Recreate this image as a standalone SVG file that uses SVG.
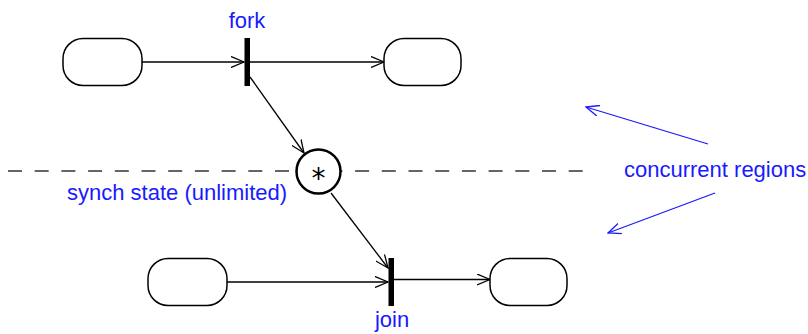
<svg xmlns="http://www.w3.org/2000/svg" width="808" height="334" viewBox="0 0 808 334">
<style>
.state{fill:#fff;stroke:#000;stroke-width:1.5}
.bar{fill:#000}
.conn{fill:none;stroke:#000;stroke-width:1.3}
.note{fill:none;stroke:#1a1aff;stroke-width:1.3}
.lbl{font-family:"Liberation Sans",Arial,sans-serif;font-size:22px;fill:#1a1aff}
</style>
<defs>
<marker id="ah" viewBox="0 0 14 12" refX="13" refY="6" markerWidth="14" markerHeight="12" markerUnits="userSpaceOnUse" orient="auto">
<path d="M0,0.5 L13,6 L0,11.5" fill="none" stroke="#000" stroke-width="1.3"/>
</marker>
<marker id="ahb" viewBox="0 0 14 12" refX="13" refY="6" markerWidth="14" markerHeight="12" markerUnits="userSpaceOnUse" orient="auto">
<path d="M0,0.5 L13,6 L0,11.5" fill="none" stroke="#1a1aff" stroke-width="1.3"/>
</marker>
</defs>
<rect width="808" height="334" fill="#fff"/>
<line x1="8" y1="171" x2="590" y2="171" stroke="#333" stroke-width="1.6" stroke-dasharray="14 12.7"/>
<g id="connectors">
<line class="conn" x1="142" y1="62" x2="244" y2="62" marker-end="url(#ah)"/>
<line class="conn" x1="250" y1="62" x2="384" y2="62" marker-end="url(#ah)"/>
<line class="conn" x1="250" y1="77" x2="304" y2="153" marker-end="url(#ah)"/>
<line class="conn" x1="331" y1="193" x2="388" y2="268" marker-end="url(#ah)"/>
<line class="conn" x1="227" y1="282" x2="388" y2="282" marker-end="url(#ah)"/>
<line class="conn" x1="394" y1="279.5" x2="490" y2="279.5" marker-end="url(#ah)"/>
<line class="note" x1="708" y1="144" x2="586" y2="107" marker-end="url(#ahb)"/>
<line class="note" x1="715" y1="193" x2="608" y2="233" marker-end="url(#ahb)"/>
</g>
<g id="state1"><rect class="state" x="63" y="38.5" width="79" height="47" rx="20"/></g>
<g id="state2"><rect class="state" x="384" y="38.5" width="77" height="47" rx="20"/></g>
<g id="state3"><rect class="state" x="148" y="258.5" width="79" height="47" rx="20"/></g>
<g id="state4"><rect class="state" x="490" y="258.5" width="77" height="47" rx="20"/></g>
<g id="fork"><rect class="bar" x="244.5" y="38" width="5.5" height="48"/><text class="lbl" x="247" y="28" text-anchor="middle">fork</text></g>
<g id="join"><rect class="bar" x="388.5" y="258" width="5.5" height="48"/><text class="lbl" x="392" y="327" text-anchor="middle">join</text></g>
<g id="synch"><circle cx="318.5" cy="171.5" r="22" fill="#fff" stroke="#000" stroke-width="2.5"/><text x="318.5" y="188" text-anchor="middle" font-family="'DejaVu Sans',sans-serif" font-size="28" fill="#000">*</text><text class="lbl" x="67" y="200">synch state (unlimited)</text></g>
<g id="concurrent"><text class="lbl" x="624" y="177">concurrent regions</text></g>
</svg>
